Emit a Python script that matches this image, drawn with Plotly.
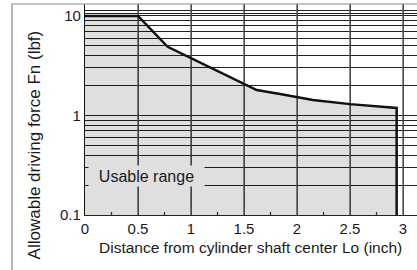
import plotly.graph_objects as go

# Data
distance_inch = [0, 0.5, 0.78, 1.62, 1.84, 2.15, 2.5, 2.94, 2.94]
force_lbf = [10, 10, 4.9, 1.8, 1.64, 1.43, 1.3, 1.19, 0.1]

x_tick_vals = [0, 0.5, 1, 1.5, 2, 2.5, 3]
x_tick_text = ["0", "0.5", "1", "1.5", "2", "2.5", "3"]
x_minor_ticks = [0.25, 0.75, 1.25, 1.75, 2.25, 2.75]
y_tick_vals = [0.1, 1, 10]
y_tick_text = ["0.1", "1", "10"]
y_minor_grid = [0.2, 0.3, 0.4, 0.5, 0.6, 0.7, 0.8, 0.9,
                2, 3, 4, 5, 6, 7, 8, 9, 10.7, 11.3]

x_title = "Distance from cylinder shaft center Lo (inch)"
y_title = "Allowable driving force Fn (lbf)"
region_label = "Usable range"

FONT = "Liberation Sans, Arial, Helvetica, sans-serif"
FILL = "rgba(0,0,0,0.125)"
X_RANGE = [0, 3.132]
Y_RANGE = [-1, 1.12]          # log10 units
PLOT_H = 270 - 4 - 55

y_lo, y_hi = 10 ** Y_RANGE[0], 10 ** Y_RANGE[1]
y_tick_top = 10 ** (Y_RANGE[0] + 3 / PLOT_H * (Y_RANGE[1] - Y_RANGE[0]))

# all horizontal grid positions; only the decades carry a label
y_grid_vals = sorted(y_tick_vals + y_minor_grid)
y_grid_text = [y_tick_text[y_tick_vals.index(v)] if v in y_tick_vals else "" for v in y_grid_vals]


def segments(xs, y0, y1):
    gx, gy = [], []
    for v in xs:
        gx += [v, v, None]
        gy += [y0, y1, None]
    return gx, gy


fig = go.Figure()
# vertical grid lines at the labelled x positions
gx, gy = segments(x_tick_vals[1:], y_lo, y_hi)
fig.add_trace(go.Scatter(x=gx, y=gy, mode="lines", line=dict(color="#4d4d4d", width=1.3),
                         hoverinfo="skip", showlegend=False, cliponaxis=True))
fig.add_trace(go.Scatter(
    x=distance_inch, y=force_lbf, mode="lines",
    line=dict(color="#111111", width=2.5),
    fill="tozeroy", fillcolor=FILL, hoverinfo="skip", showlegend=False,
))
# small inside ticks between the labelled positions
tx, ty = segments(x_minor_ticks, y_lo, y_tick_top)
fig.add_trace(go.Scatter(x=tx, y=ty, mode="lines", line=dict(color="#333333", width=1.3),
                         hoverinfo="skip", showlegend=False))

fig.update_layout(
    width=417, height=270,
    margin=dict(l=85, r=0, t=4, b=55, autoexpand=False),
    paper_bgcolor="white", plot_bgcolor="white",
    font=dict(family=FONT, size=15, color="#1a1a1a"),
    showlegend=False,
    xaxis=dict(
        range=X_RANGE, tickmode="array", tickvals=x_tick_vals, ticktext=x_tick_text,
        showgrid=True, gridcolor="#505050", gridwidth=1.3,
        showline=True, linecolor="#222222", linewidth=1.2,
        ticks="", zeroline=False, automargin=False,
        tickfont=dict(size=15),
    ),
    yaxis=dict(
        type="log", range=Y_RANGE, tickmode="array",
        tickvals=y_grid_vals, ticktext=y_grid_text,
        showgrid=True, gridcolor="#222222", gridwidth=1,
        showline=True, linecolor="#111111", linewidth=1.2,
        ticks="", zeroline=False, automargin=False,
        tickfont=dict(size=15),
    ),
    shapes=[dict(type="rect", xref="paper", yref="paper",
                 x0=-0.22, x1=1.05, y0=-0.35, y1=1.0,
                 line=dict(color="#8a8a8a", width=1.2), layer="above")],
    annotations=[
        dict(text=x_title, xref="paper", yref="paper", x=0.497, y=-0.152,
             showarrow=False, font=dict(size=15.5), xanchor="center", yanchor="middle"),
        dict(text=y_title, xref="paper", yref="paper", x=-0.151, y=0.334,
             showarrow=False, textangle=-90, font=dict(size=17),
             xanchor="center", yanchor="middle"),
        dict(text=region_label, xref="x", yref="y", x=0.58, y=-0.608,
             showarrow=False, font=dict(size=16), bgcolor="#dfdfdf",
             width=113, height=18, xanchor="center", yanchor="middle"),
    ],
)

fig.write_html("out.html", config={"displayModeBar": False},
               post_script="document.body.style.margin='0';")
